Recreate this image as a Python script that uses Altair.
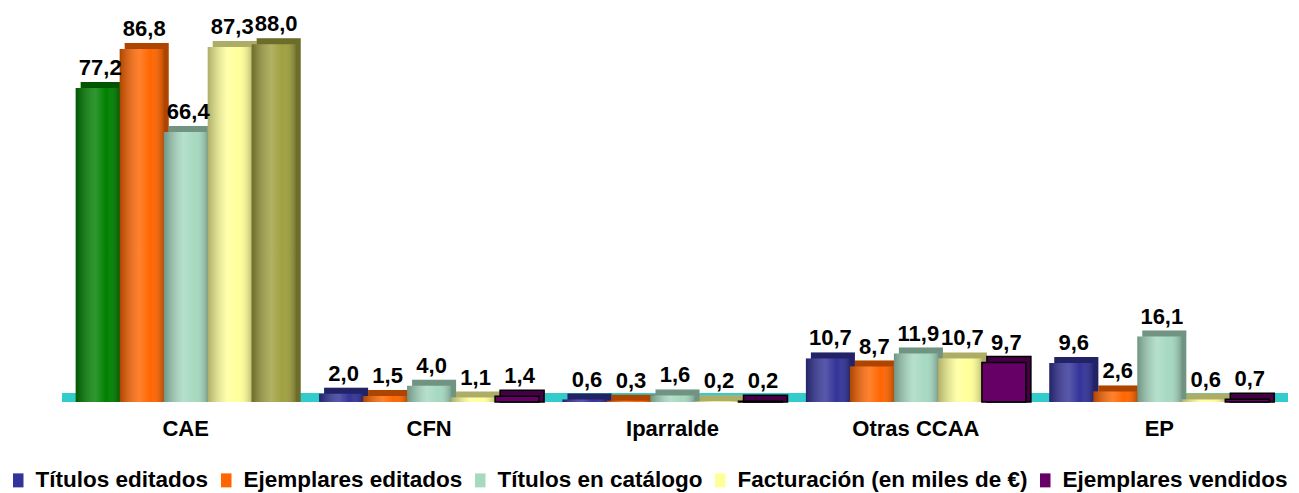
import altair as alt
import pandas as pd

categories = ["CAE", "CFN", "Iparralde", "Otras CCAA", "EP"]
series = ["Títulos editados", "Ejemplares editados", "Títulos en catálogo",
          "Facturación (en miles de €)", "Ejemplares vendidos"]

titulos_editados = [77.2, 2.0, 0.6, 10.7, 9.6]
ejemplares_editados = [86.8, 1.5, 0.3, 8.7, 2.6]
titulos_catalogo = [66.4, 4.0, 1.6, 11.9, 16.1]
facturacion = [87.3, 1.1, 0.2, 10.7, 0.6]
ejemplares_vendidos = [88.0, 1.4, 0.2, 9.7, 0.7]

series_values = [titulos_editados, ejemplares_editados, titulos_catalogo,
                 facturacion, ejemplares_vendidos]
series_colors = ["#333399", "#FF6600", "#A6D9C0", "#FFFF99", "#660066"]
# the CAE group uses its own colours for the first and the last series
cae_keys = {"Títulos editados": "CAE Títulos editados",
            "Ejemplares vendidos": "CAE Ejemplares vendidos"}
cae_colors = ["#008000", "#A0A040"]

rows = []
for s, vals in zip(series, series_values):
    for c, v in zip(categories, vals):
        key = cae_keys.get(s, s) if c == "CAE" else s
        rows.append({"cat": c, "series": s, "value": v, "key": key,
                     "label": f"{v:.1f}".replace(".", ",")})
df = pd.DataFrame(rows)

key_domain = series + list(cae_keys.values())
key_range = series_colors + cae_colors

FONT = "Arial"
DEPTH = 1.475  # 3D depth of the bars, in value units (~6 px)

x_enc = alt.X("cat:N", sort=categories,
              scale=alt.Scale(paddingInner=0, paddingOuter=0),
              axis=alt.Axis(title=None, labelFontSize=22, labelFont=FONT,
                            labelFontWeight="bold", labelColor="black",
                            domain=False, ticks=False, tickSize=0,
                            labelPadding=16, labelAngle=0))
front_xo = alt.XOffset("series:N", sort=series,
                       scale=alt.Scale(type="band", paddingInner=0,
                                       paddingOuter=0.266, align=0.5))
back_xo = alt.XOffset("series:N", sort=series,
                      scale=alt.Scale(type="band", paddingInner=0,
                                      paddingOuter=0.266, align=0.714))
y_scale = alt.Scale(domain=[0, 90], nice=False, zero=True)

legend = alt.Legend(values=series, title=None, orient="none", legendX=-57, legendY=433,
                    direction="horizontal", columns=5, padding=0,
                    symbolType="M-0.75,-1L0.75,-1L0.75,1L-0.75,1Z", symbolSize=196,
                    symbolStrokeWidth=0, labelFont=FONT, labelFontSize=22.5,
                    labelFontWeight="bold", labelColor="black", labelOffset=6,
                    columnPadding=6, labelLimit=500)
fill_enc = alt.Fill("key:N", scale=alt.Scale(domain=key_domain, range=key_range),
                    legend=legend)
stroke_w = alt.condition(alt.datum.key == "Ejemplares vendidos",
                         alt.value(1.5), alt.value(0))

base = alt.Chart(df)

floor = alt.Chart(pd.DataFrame({"v": [0]})).mark_rule(
    color="#33CCCC", strokeWidth=9, yOffset=-4.5
).encode(y=alt.Y("v:Q", scale=y_scale, axis=None),
         x=alt.value(-2), x2=alt.value(1224))

back = base.transform_calculate(top=f"datum.value + {DEPTH}").mark_bar(
    stroke="black"
).encode(x=x_enc, xOffset=back_xo,
         y=alt.Y("top:Q", scale=y_scale, axis=None),
         fill=fill_enc, strokeWidth=stroke_w)

back_shade = base.transform_calculate(top=f"datum.value + {DEPTH}").mark_bar(
    color="black", opacity=0.32
).encode(x=x_enc, xOffset=back_xo,
         y=alt.Y("top:Q", scale=y_scale, axis=None))

front = base.mark_bar(stroke="black").encode(
    x=x_enc, xOffset=front_xo,
    y=alt.Y("value:Q", scale=y_scale, axis=None),
    fill=fill_enc, strokeWidth=stroke_w)

grad = alt.LinearGradient(
    gradient="linear", x1=0, x2=1, y1=0, y2=0,
    stops=[alt.GradientStop(color="rgba(0,0,0,0.32)", offset=0),
           alt.GradientStop(color="rgba(255,255,255,0.18)", offset=0.45),
           alt.GradientStop(color="rgba(255,255,255,0.0)", offset=0.7),
           alt.GradientStop(color="rgba(0,0,0,0.25)", offset=1)])
front_grad = base.mark_bar(color=grad).encode(
    x=x_enc, xOffset=front_xo,
    y=alt.Y("value:Q", scale=y_scale, axis=None),
    opacity=alt.condition(alt.datum.key == "Ejemplares vendidos",
                          alt.value(0), alt.value(1)))

labels = base.mark_text(font=FONT, fontSize=22, fontWeight="bold", color="black",
                        baseline="alphabetic", dx=2.5, dy=-13).encode(
    x=x_enc, xOffset=front_xo,
    y=alt.Y("value:Q", scale=y_scale, axis=None),
    text="label:N")

chart = alt.layer(floor, back, back_shade, front, front_grad, labels).properties(
    width=1217, height=366,
    padding={"left": 56, "top": 28, "right": 10, "bottom": 91},
    autosize=alt.AutoSizeParams(type="none"),
).resolve_scale(xOffset="independent").configure_view(stroke=None)

chart.save("out.html", embed_options={"renderer": "svg", "actions": False})
